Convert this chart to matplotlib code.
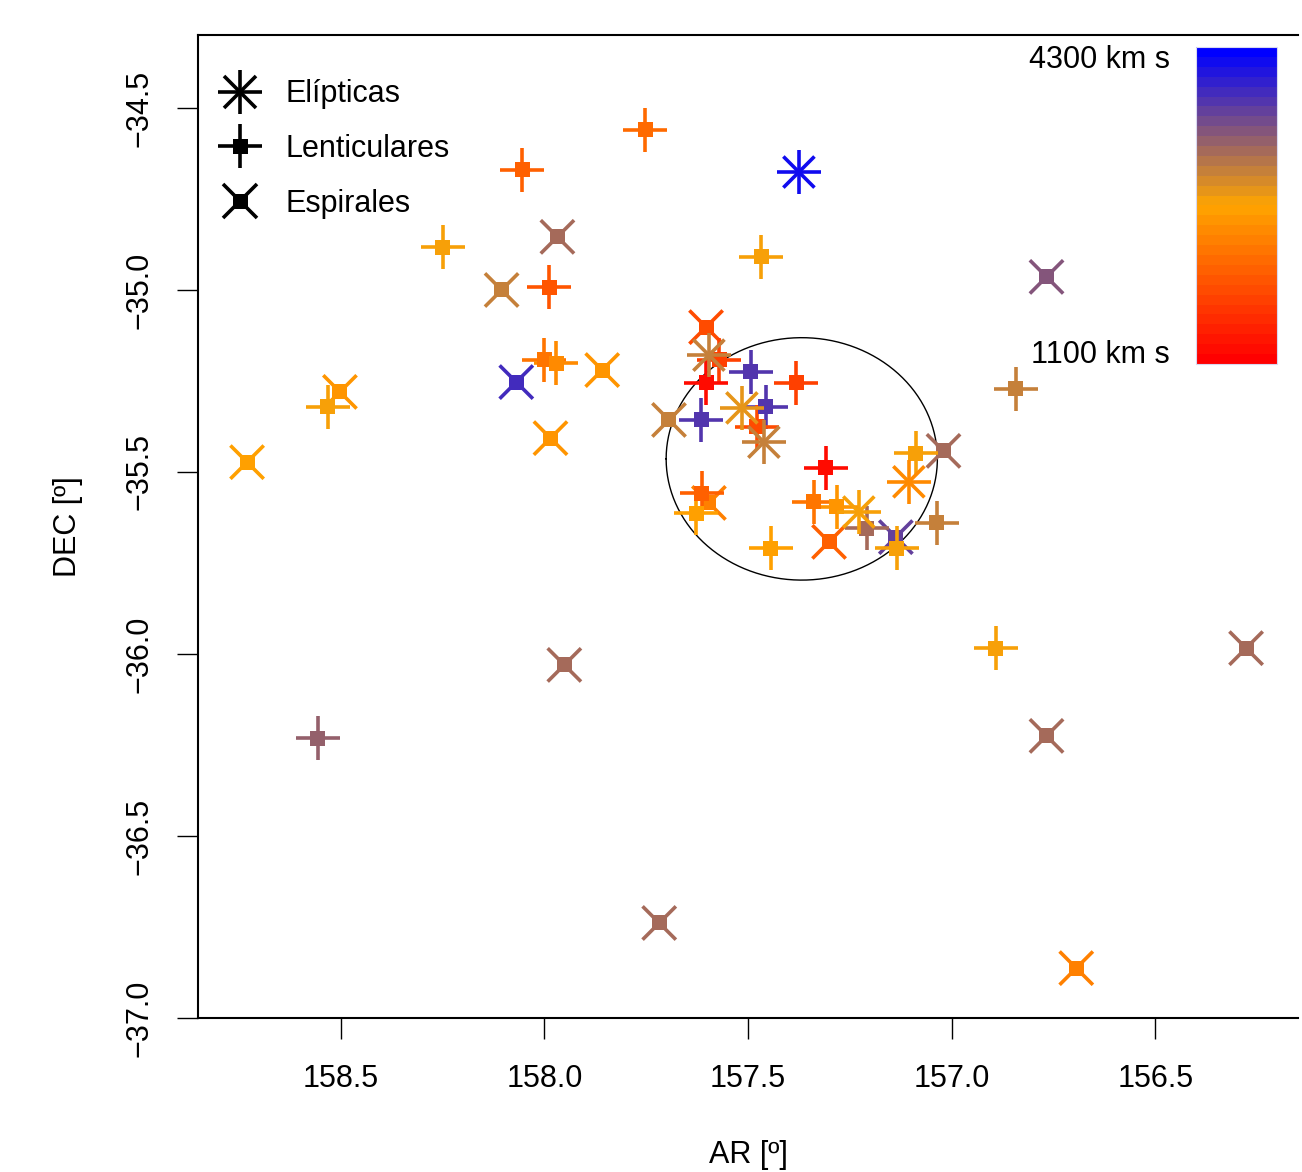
import numpy as np
import matplotlib
matplotlib.use("Agg")
import matplotlib.pyplot as plt
from matplotlib.colors import LinearSegmentedColormap, Normalize
from matplotlib.lines import Line2D
from matplotlib.legend_handler import HandlerTuple
import matplotlib.colorbar as mcolorbar

plt.rcParams['font.family'] = ['Liberation Sans', 'DejaVu Sans']

# ---------------- data ----------------
# Elípticas
ell_ra = [157.375, 157.596, 157.515, 157.461, 157.105, 157.228]
ell_dec = [-34.676, -35.179, -35.324, -35.418, -35.527, -35.610]
ell_v = [4110, 3020, 2890, 3040, 2460, 2780]

# Lenticulares
len_ra = [157.752, 158.054, 158.250, 157.468, 157.988, 158.532, 158.000, 157.971,
          156.843, 156.892, 158.556, 157.571, 157.603, 157.493, 157.382, 157.615,
          157.456, 157.478, 157.309, 157.088, 157.338, 157.282, 157.208, 157.135,
          157.037, 157.613, 157.627, 157.444]
len_dec = [-34.560, -34.670, -34.882, -34.909, -34.992, -35.321, -35.192, -35.201,
           -35.272, -35.984, -36.231, -35.192, -35.255, -35.225, -35.255, -35.357,
           -35.321, -35.376, -35.489, -35.448, -35.582, -35.596, -35.654, -35.709,
           -35.640, -35.558, -35.613, -35.709]
len_v = [2120, 2070, 2760, 2740, 1925, 2720, 2260, 2460,
         3020, 2720, 3370, 1780, 1200, 3770, 1780, 3770,
         3770, 1875, 1245, 2760, 2215, 2505, 3250, 2740,
         3020, 2070, 2650, 2650]

# Espirales
esp_ra = [157.968, 158.105, 156.767, 158.502, 158.730, 158.069, 157.858, 157.985,
          157.020, 157.951, 156.277, 156.767, 157.718, 156.694, 157.603, 157.694,
          157.301, 157.137, 157.596]
esp_dec = [-34.854, -35.000, -34.964, -35.280, -35.473, -35.253, -35.220, -35.407,
           -35.442, -36.030, -35.984, -36.225, -36.739, -36.863, -35.102, -35.357,
           -35.692, -35.679, -35.585]
esp_v = [3290, 3080, 3450, 2555, 2650, 3870, 2555, 2505,
         3290, 3230, 3250, 3220, 3200, 2360, 1870, 3080,
         2070, 3690, 2360]

v_min, v_max = 1100, 4300
circle_ra, circle_dec, circle_r = 157.368, -35.464, 0.333

x_ticks = [158.5, 158.0, 157.5, 157.0, 156.5]
y_ticks = [-34.5, -35.0, -35.5, -36.0, -36.5, -37.0]
x_lim = (158.8505, 156.1495)
y_lim = (-37.0, -34.2995)

legend_labels = ["Elípticas", "Lenticulares", "Espirales"]

# ---------------- style ----------------
W, H = 1302, 1172
FS = 22
cmap = LinearSegmentedColormap.from_list('vel', ['red', 'orange', 'blue'], N=32)
norm = Normalize(v_min, v_max)

fig = plt.figure(figsize=(W / 100, H / 100), dpi=100)
ax = fig.add_axes([198 / W, 1 - 1018 / H, 1100 / W, 983 / H])

PLUS = 31.7
LW = 2.6
SQ = 10.8
XS = 24.0

# circle
t = np.linspace(0, 2 * np.pi, 400)
ax.plot(circle_ra + circle_r * np.cos(t), circle_dec + circle_r * np.sin(t),
        color='black', lw=1.0, zorder=1)

# Espirales
ax.scatter(esp_ra, esp_dec, c=esp_v, cmap=cmap, norm=norm, marker='x',
           s=XS ** 2, linewidths=LW, zorder=2)
ax.scatter(esp_ra, esp_dec, c=esp_v, cmap=cmap, norm=norm, marker='s',
           s=SQ ** 2, linewidths=0, zorder=2)
# Lenticulares
ax.scatter(len_ra, len_dec, c=len_v, cmap=cmap, norm=norm, marker='+',
           s=PLUS ** 2, linewidths=LW, zorder=3)
ax.scatter(len_ra, len_dec, c=len_v, cmap=cmap, norm=norm, marker='s',
           s=SQ ** 2, linewidths=0, zorder=3)
# Elípticas
ax.scatter(ell_ra, ell_dec, c=ell_v, cmap=cmap, norm=norm, marker='+',
           s=PLUS ** 2, linewidths=LW, zorder=4)
ax.scatter(ell_ra, ell_dec, c=ell_v, cmap=cmap, norm=norm, marker='x',
           s=22.4 ** 2, linewidths=LW, zorder=4)

ax.set_xlim(*x_lim)
ax.set_ylim(*y_lim)
ax.set_xticks(x_ticks)
ax.set_xticklabels([f"{v:.1f}" for v in x_ticks])
ax.set_yticks(y_ticks)
ax.set_yticklabels([f"{v:.1f}".replace('-', '\u2212') for v in y_ticks],
                   rotation=90, va='center')
ax.tick_params(axis='both', direction='out', length=15, width=1.0,
               labelsize=FS, colors='black')
ax.tick_params(axis='x', pad=18)
ax.tick_params(axis='y', pad=16)
for side in ['left', 'bottom', 'top']:
    ax.spines[side].set_linewidth(1.5)
ax.spines['right'].set_visible(False)

ax.set_xlabel("AR [º]", fontsize=FS, labelpad=33)
ax.set_ylabel("DEC [º]", fontsize=FS, labelpad=30)

# legend
h_plus = Line2D([], [], ls='none', marker='+', ms=PLUS, mew=LW, color='black')
h_x_ell = Line2D([], [], ls='none', marker='x', ms=22.4, mew=LW, color='black')
h_sq = Line2D([], [], ls='none', marker='s', ms=SQ, mew=0, color='black')
h_x = Line2D([], [], ls='none', marker='x', ms=XS, mew=LW, color='black')
handles = [(h_plus, h_x_ell), (h_plus, h_sq), (h_x, h_sq)]
ax.legend(handles, legend_labels, handler_map={tuple: HandlerTuple(ndivide=1)},
          loc='upper left', bbox_to_anchor=(0.024, 0.955), frameon=False,
          fontsize=FS, handlelength=1.0, handletextpad=1.0, labelspacing=0.81,
          borderpad=0, borderaxespad=0)

# colour bar
cax = fig.add_axes([1196 / W, 1 - 364 / H, 81 / W, 317 / H])
cb = mcolorbar.ColorbarBase(cax, cmap=cmap, norm=norm, orientation='vertical')
cb.set_ticks([])
cb.outline.set_edgecolor('#d8d8f0')
cb.outline.set_linewidth(0.8)
fig.text(1170 / W, 1 - 60 / H, f"{v_max} km s", ha='right', va='center', fontsize=FS)
fig.text(1170 / W, 1 - 355 / H, f"{v_min} km s", ha='right', va='center', fontsize=FS)

fig.savefig("out.png", dpi=100)
